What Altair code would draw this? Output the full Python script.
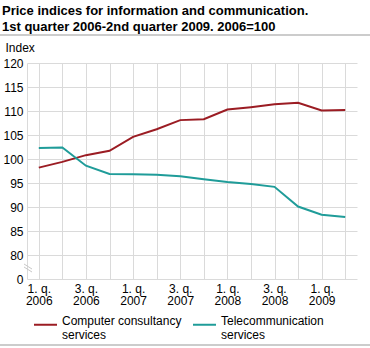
import altair as alt
import pandas as pd

quarters = list(range(14))
quarter_labels = ["1. q.", "2. q.", "3. q.", "4. q."] * 3 + ["1. q.", "2. q."]
year_labels = ["2006"] * 4 + ["2007"] * 4 + ["2008"] * 4 + ["2009"] * 2
computer = [98.2, 99.4, 100.8, 101.7, 104.6, 106.2, 108.1, 108.3, 110.3, 110.8, 111.4, 111.7, 110.1, 110.2]
telecom = [102.3, 102.4, 98.6, 96.9, 96.8, 96.7, 96.4, 95.8, 95.2, 94.8, 94.2, 90.1, 88.4, 87.9]
series_names = ["Computer consultancy services", "Telecommunication services"]
series_colors = ["#9b1c23", "#1f9c99"]
y_ticks = [75, 80, 85, 90, 95, 100, 105, 110, 115, 120]

rows = []
for name, vals in zip(series_names, [computer, telecom]):
    for q, v in zip(quarters, vals):
        rows.append({"q": q, "series": name, "value": v})
df = pd.DataFrame(rows)

FONT = "Liberation Sans"
ql_js = "[" + ",".join("'" + s + "'" for s in quarter_labels) + "]"
yl_js = "[" + ",".join("'" + s + "'" for s in year_labels) + "]"
x_label_expr = ("datum.value % 2 == 0 ? [" + ql_js + "[datum.value], "
                + yl_js + "[datum.value]] : ''")

lines = alt.Chart(df).mark_line(strokeWidth=2).encode(
    x=alt.X("q:Q",
            scale=alt.Scale(domain=[-0.5, 13.5], nice=False, zero=False),
            axis=alt.Axis(values=quarters, labelExpr=x_label_expr, title=None,
                          ticks=False, domain=False, grid=True, gridColor="#dadada",
                          labelFont=FONT, labelFontSize=12, labelColor="#000000",
                          labelPadding=4, labelBaseline="top", labelLineHeight=12.5,
                          labelFlush=False, labelOverlap=False)),
    y=alt.Y("value:Q",
            scale=alt.Scale(domain=[75, 120], nice=False, zero=False),
            axis=alt.Axis(values=y_ticks, labelExpr="datum.value == 75 ? '0' : datum.label",
                          title="Index", titleAngle=0, titleX=-22, titleY=-16,
                          titleAlign="left", titleBaseline="middle",
                          titleFont=FONT, titleFontSize=12, titleFontWeight="normal",
                          titleColor="#000000",
                          ticks=False, domain=True, domainColor="#dadada", grid=True,
                          gridColor="#dadada", labelFont=FONT, labelFontSize=12,
                          labelColor="#000000", labelPadding=4)),
    color=alt.Color("series:N",
                    scale=alt.Scale(domain=series_names, range=series_colors),
                    legend=alt.Legend(title=None, orient="none", legendX=6, legendY=249,
                                      direction="horizontal", symbolType="stroke",
                                      symbolSize=529, symbolStrokeWidth=2,
                                      labelFont=FONT, labelFontSize=12, labelColor="#000000",
                                      labelOffset=4, columnPadding=7, labelLimit=200,
                                      labelBaseline="alphabetic",
                                      labelExpr="[replace(datum.label, ' services', ''), 'services']")),
)

one = pd.DataFrame({"a": [0]})
title = alt.Chart(one).mark_text(align="left", baseline="alphabetic", font=FONT, fontSize=13,
                                  fontWeight="bold", lineHeight=16, color="#000000").encode(
    x=alt.value(-25), y=alt.value(-48),
    text=alt.value(["Price indices for information and communication.",
                    "1st quarter 2006-2nd quarter 2009. 2006=100"]))

top_rule = alt.Chart(one).mark_rule(color="#cccccc", strokeWidth=2).encode(
    x=alt.value(-27), x2=alt.value(343), y=alt.value(-28))
bottom_rule = alt.Chart(one).mark_rule(color="#cccccc", strokeWidth=2).encode(
    x=alt.value(-27), x2=alt.value(343), y=alt.value(282))
break1 = alt.Chart(one).mark_rule(color="#c8c8c8", strokeWidth=1).encode(
    x=alt.value(-3), x2=alt.value(5), y=alt.value(201), y2=alt.value(206))
break2 = alt.Chart(one).mark_rule(color="#c8c8c8", strokeWidth=1).encode(
    x=alt.value(-3), x2=alt.value(5), y=alt.value(204), y2=alt.value(209))

chart = alt.layer(lines, title, top_rule, bottom_rule, break1, break2).properties(
    width=330, height=216,
    background="white",
    autosize=alt.AutoSizeParams(type="none"),
    padding={"left": 27, "top": 63, "right": 13, "bottom": 69},
).configure_view(stroke=None)

chart.save("out.html", embed_options={"renderer": "svg", "actions": False})
